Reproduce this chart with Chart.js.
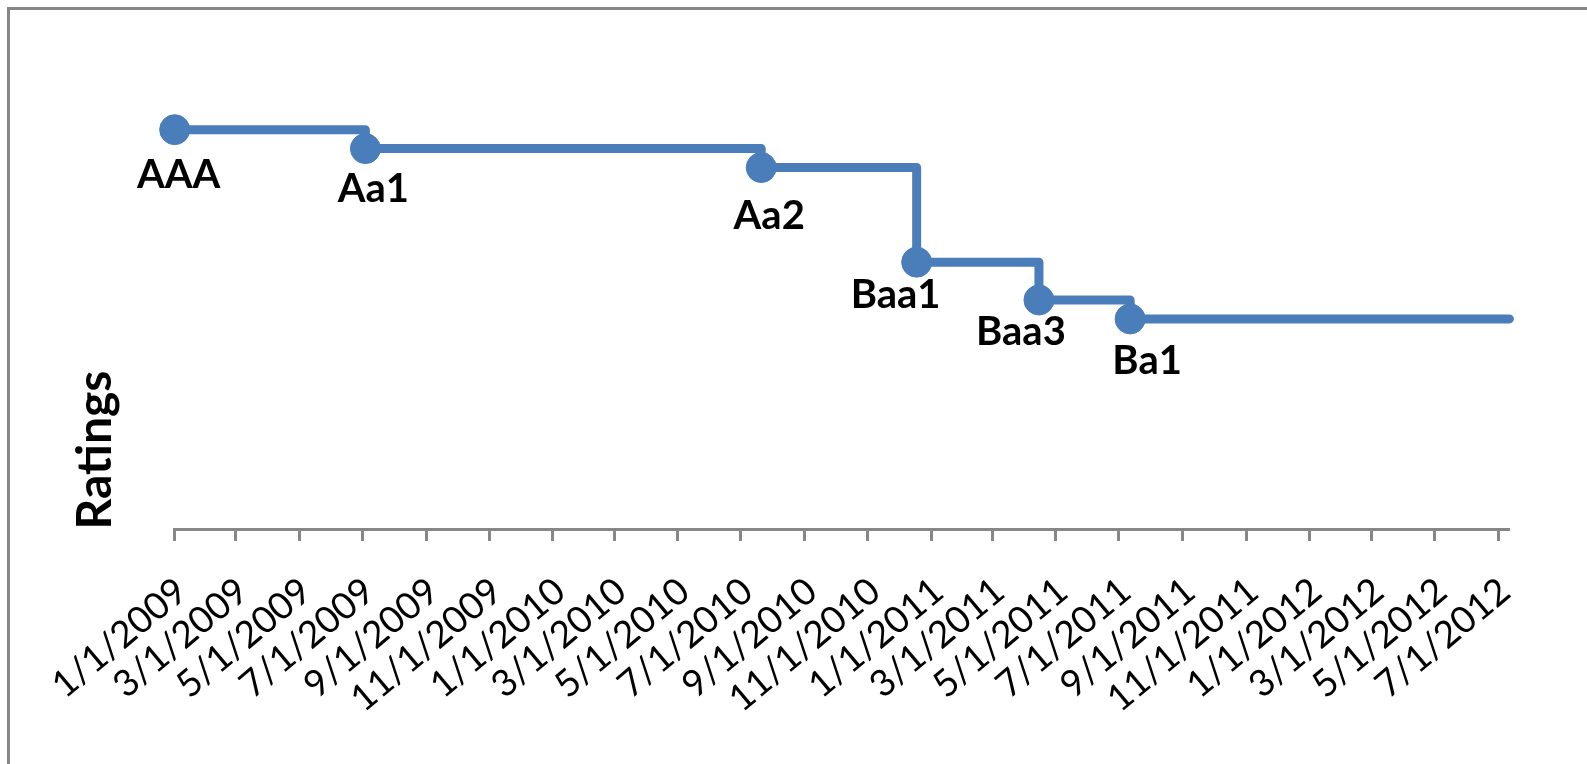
<!DOCTYPE html>
<html>
<head>
<meta charset="utf-8">
<script src="https://cdn.jsdelivr.net/npm/chart.js@4.4.1/dist/chart.umd.min.js"></script>
<style>
  html, body { margin: 0; padding: 0; background: #ffffff; }
  #chart { display: block; }
</style>
</head>
<body>
<canvas id="chart" width="1587" height="764"></canvas>
<script>
// Moody's rating history: date of each rating action and the notch score (Aaa = 21 ... Ba1 = 11)
const ratingDates = ['1/1/2009', '7/4/2009', '7/21/2010', '12/18/2010', '4/15/2011', '7/12/2011', '7/12/2012'];
const ratingScores = [21, 20, 19, 14, 12, 11, 11];
const ratingNames = ['AAA', 'Aa1', 'Aa2', 'Baa1', 'Baa3', 'Ba1', ''];

// Date axis tick labels (every second month)
const tickLabels = [
  '1/1/2009', '3/1/2009', '5/1/2009', '7/1/2009', '9/1/2009', '11/1/2009',
  '1/1/2010', '3/1/2010', '5/1/2010', '7/1/2010', '9/1/2010', '11/1/2010',
  '1/1/2011', '3/1/2011', '5/1/2011', '7/1/2011', '9/1/2011', '11/1/2011',
  '1/1/2012', '3/1/2012', '5/1/2012', '7/1/2012'
];

const yAxisTitle = 'Ratings';

// Label placement relative to each marker (dx, dy to text baseline centre)
const labelShift = [[4, 58], [8, 53], [8, 61], [-21, 46], [-18, 45], [17, 55], [0, 0]];

const BLUE = '#4A7EBB';
const AXIS_GREY = '#878787';

function toDay(str) {
  const [m, d, y] = str.split('/').map(Number);
  return Date.UTC(y, m - 1, d) / 86400000;
}
const day0 = toDay(ratingDates[0]);
const dayOf = s => toDay(s) - day0;

const points = ratingDates.map((d, i) => ({ x: dayOf(d), y: ratingScores[i] }));
const tickDays = tickLabels.map(dayOf);

const frame = {
  id: 'frame',
  beforeDraw(chart) {
    const ctx = chart.ctx;
    ctx.save();
    ctx.fillStyle = '#ffffff';
    ctx.fillRect(0, 0, chart.width, chart.height);
    ctx.strokeStyle = AXIS_GREY;
    ctx.lineWidth = 3;
    ctx.strokeRect(8.5, 8.5, chart.width + 20, chart.height + 20);
    ctx.restore();
  },
  afterDraw(chart) {
    const ctx = chart.ctx;
    ctx.save();
    ctx.fillStyle = '#000000';
    ctx.font = 'bold 48px Lato, "Open Sans", sans-serif';
    ctx.textAlign = 'center';
    ctx.textBaseline = 'alphabetic';
    ctx.translate(111, 450);
    ctx.rotate(-Math.PI / 2);
    ctx.fillText(yAxisTitle, 0, 0);
    ctx.restore();
  }
};

const pointLabels = {
  id: 'pointLabels',
  afterDatasetsDraw(chart) {
    const ctx = chart.ctx;
    const meta = chart.getDatasetMeta(0);
    ctx.save();
    ctx.fillStyle = '#000000';
    ctx.font = 'bold 40px Lato, "Open Sans", sans-serif';
    ctx.textAlign = 'center';
    ctx.textBaseline = 'alphabetic';
    meta.data.forEach((pt, i) => {
      const name = ratingNames[i];
      if (!name) return;
      const [dx, dy] = labelShift[i];
      ctx.fillText(name, pt.x + dx, pt.y + dy);
    });
    ctx.restore();
  }
};

function draw() {
  new Chart(document.getElementById('chart'), {
    type: 'line',
    data: {
      datasets: [{
        data: points,
        borderColor: BLUE,
        borderWidth: 9,
        stepped: 'before',
        borderJoinStyle: 'round',
        borderCapStyle: 'round',
        pointRadius: ratingNames.map(n => n ? 15 : 0),
        pointHoverRadius: ratingNames.map(n => n ? 15 : 0),
        pointBackgroundColor: BLUE,
        pointBorderColor: BLUE,
        pointBorderWidth: 1,
        clip: false
      }]
    },
    options: {
      responsive: false,
      animation: false,
      devicePixelRatio: 1,
      layout: { padding: { left: 174.7, right: 77.6, top: 54, bottom: 0 } },
      plugins: { legend: { display: false }, tooltip: { enabled: false } },
      scales: {
        x: {
          type: 'linear',
          min: 0,
          max: points[points.length - 1].x,
          afterBuildTicks(scale) {
            scale.ticks = tickDays.map(v => ({ value: v }));
          },
          afterFit(scale) {
            scale.height = 764 - 529;
          },
          ticks: {
            autoSkip: false,
            minRotation: 40,
            maxRotation: 40,
            padding: 28,
            labelOffset: 7,
            color: '#000000',
            font: { family: 'Lato', size: 37 },
            callback: (value, index) => tickLabels[index]
          },
          grid: {
            drawOnChartArea: false,
            drawTicks: true,
            tickLength: 12,
            tickWidth: 3,
            tickColor: AXIS_GREY
          },
          border: { display: true, color: AXIS_GREY, width: 3 }
        },
        y: {
          display: false,
          min: -0.1,
          max: 25
        }
      }
    },
    plugins: [frame, pointLabels]
  });
}

if (document.fonts && document.fonts.load) {
  Promise.all([
    document.fonts.load('37px Lato'),
    document.fonts.load('bold 40px Lato')
  ]).then(draw, draw);
} else {
  draw();
}
</script>
</body>
</html>
